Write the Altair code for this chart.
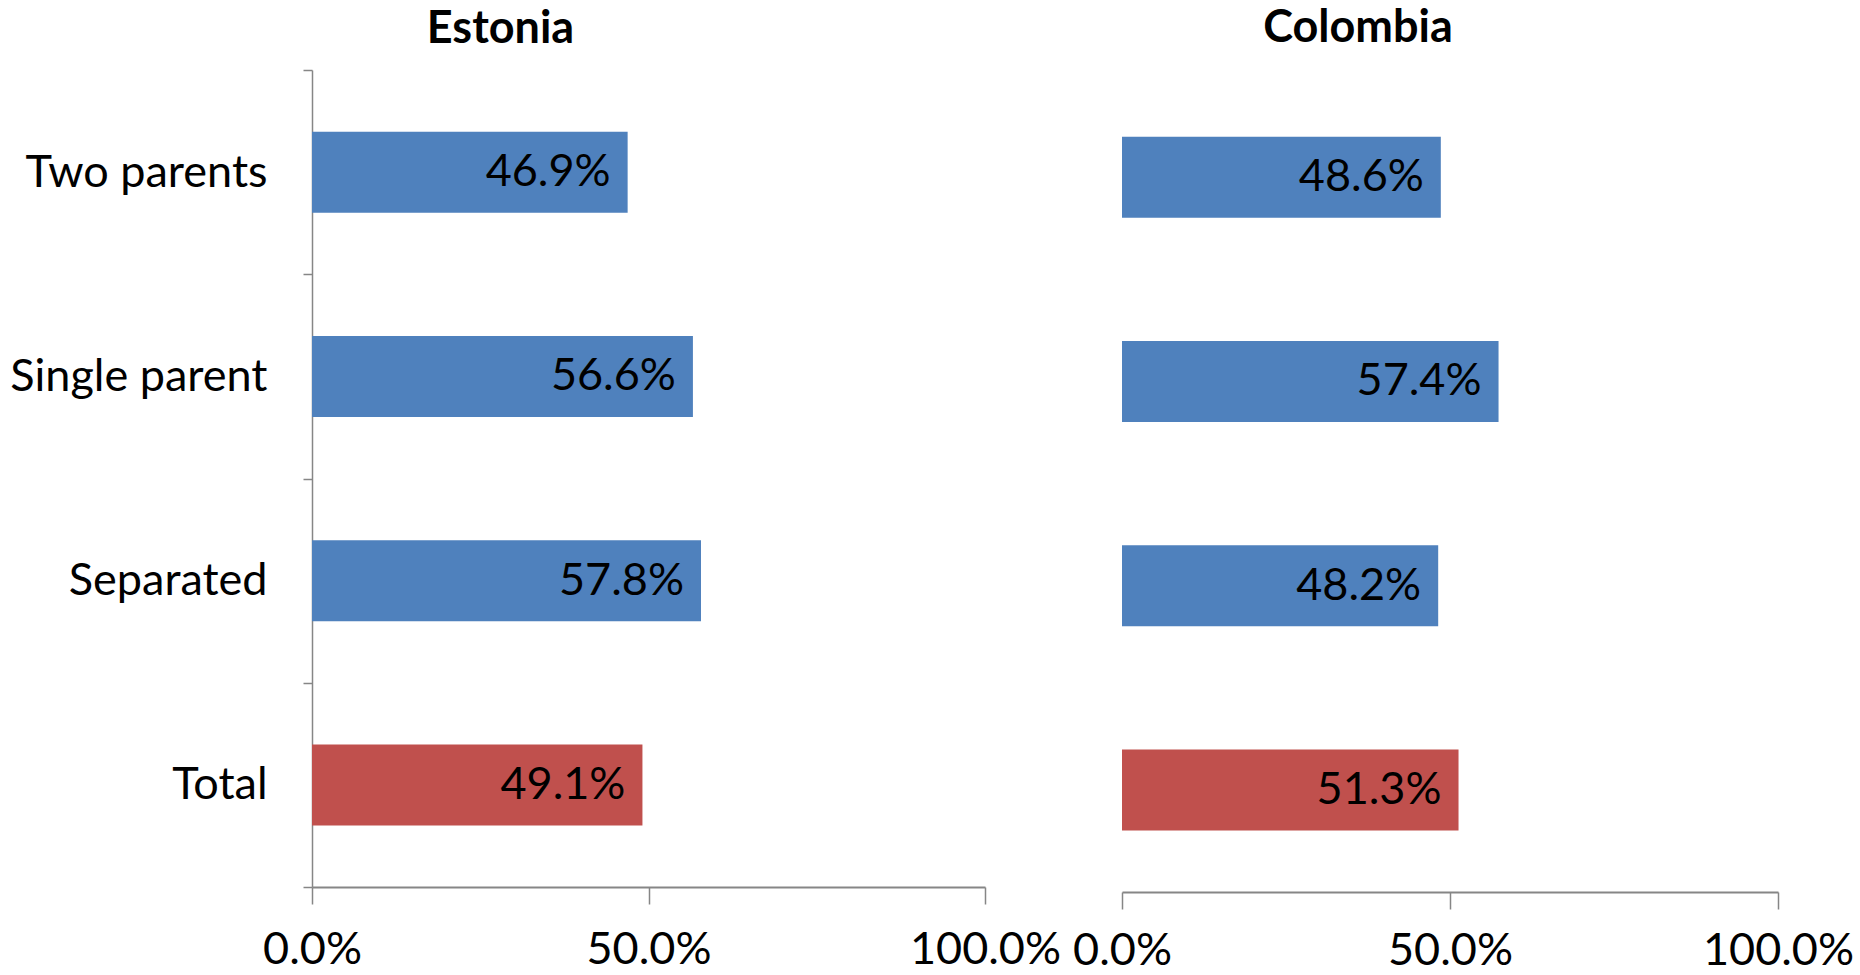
import altair as alt
import pandas as pd

categories = ["Two parents", "Single parent", "Separated", "Total"]
estonia_values = [0.469, 0.566, 0.578, 0.491]
colombia_values = [0.486, 0.574, 0.482, 0.513]
bar_colors = ["#4F81BD", "#4F81BD", "#4F81BD", "#C0504D"]
x_ticks = [0.0, 0.5, 1.0]

FONT = "Lato"
FS = 45
GRAY = "#868686"


def panel(values, title, dx, offset, show_y, width, height, y_range, x_label_pad):
    df = pd.DataFrame({
        "category": categories,
        "value": values,
        "color": bar_colors,
        "label": [f"{v * 100:.1f}%" for v in values],
    })
    if show_y:
        y_axis = alt.Axis(title=None, labelFont=FONT, labelFontSize=FS, labelColor="black",
                          tickBand="extent", tickSize=9, tickColor=GRAY, tickWidth=1.5,
                          domainColor=GRAY, domainWidth=1.5, labelPadding=36, labelLimit=500)
    else:
        y_axis = None
    y = alt.Y("category:N", sort=categories,
              scale=alt.Scale(paddingInner=0, paddingOuter=0, range=y_range), axis=y_axis)
    x = alt.X("value:Q", scale=alt.Scale(domain=[0, 1], nice=False),
              axis=alt.Axis(values=x_ticks, format=".1%", title=None, grid=False,
                            domainColor=GRAY, domainWidth=2, tickColor=GRAY, tickWidth=1.5,
                            tickSize=17, labelFont=FONT, labelFontSize=FS, labelColor="black",
                            labelPadding=x_label_pad, labelBaseline="middle", labelFlush=False,
                            labelOverlap=False, labelBound=False))
    bars = alt.Chart(df).mark_bar(size=81).encode(
        x=x, y=y, color=alt.Color("color:N", scale=None))
    text = alt.Chart(df).mark_text(align="right", baseline="middle", dx=-17, font=FONT,
                                   fontSize=FS, color="black").encode(
        x=x, y=y, text="label:N")
    return (bars + text).properties(
        width=width, height=height,
        title=alt.TitleParams(title, font=FONT, fontSize=FS, fontWeight="bold", color="black",
                              anchor="middle", frame="group", dx=dx, offset=offset,
                              baseline="alphabetic"))


est = panel(estonia_values, "Estonia", -148, -40, True, 673, 817, [0, 817], 45)
col = panel(colombia_values, "Colombia", -92, -17, False, 656, 822, [5, 822], 41)

chart = alt.hconcat(est, col, spacing=137, bounds="flush").properties(
    padding={"left": 9, "top": 6, "right": 0, "bottom": 0},
).configure_view(stroke=None)

chart.save("out.html", embed_options={"renderer": "svg", "actions": False})
